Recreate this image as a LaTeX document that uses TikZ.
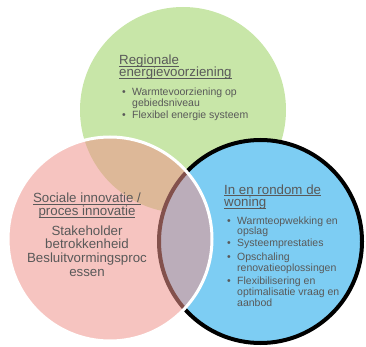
\documentclass[tikz,border=0pt]{standalone}
\usepackage{fontspec}
\setmainfont{Liberation Sans}
\definecolor{leafgreen}{RGB}{200,230,168}
\definecolor{skyblue}{RGB}{125,205,243}
\definecolor{rosepink}{RGB}{239,148,140}
\definecolor{textgray}{RGB}{89,89,89}
% underline that sits just below the baseline and crosses descenders
\newcommand\ulbar[1]{\setbox0\hbox{#1}\rlap{\rule[-2pt]{\wd0}{0.8pt}}\box0}
\tikzset{
  disc/.style={circle, inner sep=0pt, minimum size=#1},
  head/.style={anchor=base west, inner sep=0pt, text=textgray, font=\fontsize{13.3}{14}\selectfont},
  headc/.style={anchor=base, inner sep=0pt, text=textgray, font=\fontsize{13.3}{14}\selectfont},
  item/.style={anchor=base west, inner sep=0pt, text=textgray, font=\fontsize{10.5}{11}\selectfont},
  dot/.style={anchor=base west, inner sep=0pt, text=textgray, font=\fontsize{10.5}{11}\selectfont},
}
\begin{document}
\begin{tikzpicture}[x=1pt, y=-1pt]
\useasboundingbox (0,0) rectangle (366,347);

% the three circles
\node[disc=206pt, fill=leafgreen] (green) at (183,110) {};
\node[disc=203pt, fill=skyblue, draw=black, line width=4pt] (blue) at (260.5,241.5) {};
\node[disc=204pt, fill=rosepink, fill opacity=0.55, draw=white, draw opacity=1, line width=3pt] (pink) at (110,239) {};

% regional energy supply
\node[head] (g1) at (119,65) {\ulbar{Regionale}};
\node[head] (g2) at (119,77) {\ulbar{energievoorziening}};
\node[dot] (gb1) at (122,96) {•};
\node[item] (g3) at (132,96) {Warmtevoorziening op};
\node[item] (g4) at (132,107) {gebiedsniveau};
\node[dot] (gb2) at (122,119) {•};
\node[item] (g5) at (132,119) {Flexibel energie systeem};

% social / process innovation
\node[headc] (p1) at (87,203) {\ulbar{Sociale innovatie /}};
\node[headc] (p2) at (87,215.5) {\ulbar{proces innovatie}};
\node[headc] (p3) at (87,235) {Stakeholder};
\node[headc] (p4) at (87,248.5) {betrokkenheid};
\node[headc] (p5) at (87,262) {Besluitvormingsproc};
\node[headc] (p6) at (87,276) {essen};

% in and around the dwelling
\node[head] (b1) at (224,194) {\ulbar{In en rondom de}};
\node[head] (b2) at (224,206.5) {\ulbar{woning}};
\node[dot] (bb1) at (227,224) {•};
\node[item] (b3) at (237,224) {Warmteopwekking en};
\node[item] (b4) at (237,234) {opslag};
\node[dot] (bb2) at (227,246.5) {•};
\node[item] (b5) at (237,246.5) {Systeemprestaties};
\node[dot] (bb3) at (227,260) {•};
\node[item] (b6) at (237,260) {Opschaling};
\node[item] (b7) at (237,271) {renovatieoplossingen};
\node[dot] (bb4) at (227,284) {•};
\node[item] (b8) at (237,284) {Flexibilisering en};
\node[item] (b9) at (237,295) {optimalisatie vraag en};
\node[item] (b10) at (237,306) {aanbod};
\end{tikzpicture}
\end{document}
